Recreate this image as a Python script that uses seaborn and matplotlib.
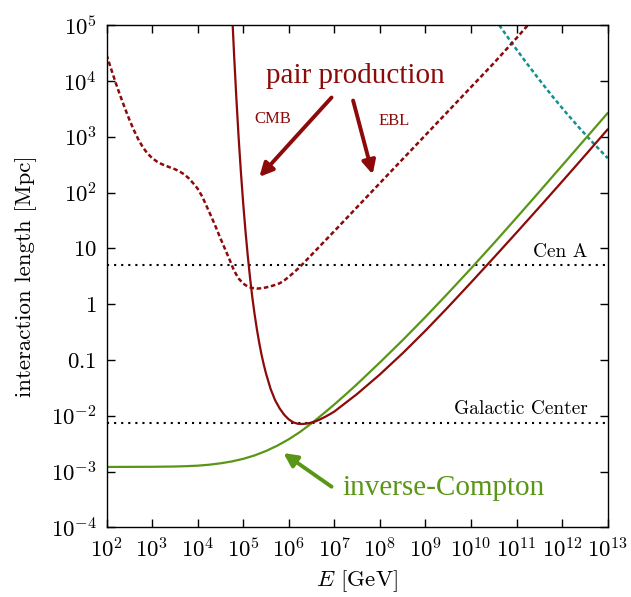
import numpy as np
import pandas as pd
import seaborn as sns
import matplotlib
matplotlib.use("Agg")
import matplotlib.pyplot as plt
from matplotlib.ticker import NullLocator

# curves, as log10(E/GeV) and log10(L/Mpc)
ic_logE = [2.0, 3.0, 3.5, 3.75, 4.0, 4.25, 4.5, 4.75, 5.0, 5.25, 5.5, 5.75, 6.0, 6.25,
           6.5, 6.75, 7.0, 7.25, 7.5, 8.0, 8.5, 9.0, 9.5, 10.0, 10.5, 11.0, 11.5, 12.0,
           12.5, 13.0]
ic_logL = [-2.917, -2.914, -2.909, -2.903, -2.894, -2.877, -2.852, -2.818, -2.772, -2.710,
           -2.631, -2.535, -2.421, -2.288, -2.134, -1.969, -1.797, -1.617, -1.432, -1.044,
           -0.644, -0.229, 0.201, 0.641, 1.091, 1.551, 2.016, 2.486, 2.956, 3.426]

cmb_logE = [4.75, 4.77, 4.80, 4.85, 4.90, 4.95, 5.00, 5.05, 5.10, 5.15, 5.20, 5.25, 5.30,
            5.35, 5.40, 5.45, 5.50, 5.60, 5.70, 5.80, 5.90, 6.00, 6.10, 6.20, 6.30, 6.40,
            6.50, 6.60, 6.70, 6.80, 6.90, 7.0, 7.5, 8.0, 8.5, 9.0, 9.5, 10.0, 10.5, 11.0,
            11.5, 12.0, 12.5, 13.0]
cmb_logL = [5.35, 4.985, 4.468, 3.686, 2.98, 2.36, 1.805, 1.31, 0.868, 0.475, 0.124, -0.18,
            -0.447, -0.685, -0.897, -1.079, -1.24, -1.516, -1.721, -1.868, -1.982, -2.065,
            -2.118, -2.143, -2.147, -2.139, -2.121, -2.096, -2.059, -2.018, -1.973, -1.924,
            -1.609, -1.259, -0.879, -0.474, -0.049, 0.389, 0.834, 1.284, 1.739, 2.199,
            2.664, 3.134]

ebl_logE = [2.0, 2.1, 2.2, 2.3, 2.4, 2.5, 2.6, 2.7, 2.8, 2.9, 3.0, 3.1, 3.2, 3.3, 3.4,
            3.5, 3.6, 3.7, 3.8, 3.9, 4.0, 4.1, 4.2, 4.3, 4.4, 4.5, 4.6, 4.7, 4.8, 4.9,
            5.0, 5.1, 5.2, 5.3, 5.4, 5.5, 5.6, 5.7, 5.8, 5.9, 6.0, 6.1, 6.2, 6.3, 6.4,
            6.5, 6.6, 7.0, 7.5, 8.0, 8.5, 9.0, 9.5, 10.0, 10.5, 11.0, 11.3]
ebl_logL = [4.47, 4.22, 3.97, 3.74, 3.52, 3.31, 3.12, 2.95, 2.81, 2.70, 2.62, 2.56, 2.515,
            2.48, 2.45, 2.42, 2.38, 2.33, 2.26, 2.17, 2.07, 1.93, 1.75, 1.57, 1.38, 1.18,
            0.99, 0.80, 0.60, 0.46, 0.37, 0.315, 0.29, 0.28, 0.285, 0.30, 0.32, 0.345,
            0.375, 0.425, 0.49, 0.56, 0.635, 0.715, 0.80, 0.885, 0.97, 1.31, 1.74, 2.17,
            2.60, 3.03, 3.46, 3.89, 4.32, 4.77, 5.05]

teal_logE = [10.62, 10.9, 11.2, 11.5, 11.8, 12.1, 12.4, 12.7, 13.0]
teal_logL = [5.0, 4.675, 4.342, 4.021, 3.712, 3.418, 3.139, 2.872, 2.617]

cen_a = 5.0        # Mpc
gal_center = 7.3e-3

xticks = [1e2, 1e3, 1e4, 1e5, 1e6, 1e7, 1e8, 1e9, 1e10, 1e11, 1e12, 1e13]
xlabels = [r'$10^{%d}$' % i for i in range(2, 14)]
yticks = [1e-4, 1e-3, 1e-2, 0.1, 1, 10, 1e2, 1e3, 1e4, 1e5]
ylabels = [r'$10^{-4}$', r'$10^{-3}$', r'$10^{-2}$', r'$0.1$', r'$1$', r'$10$',
           r'$10^{2}$', r'$10^{3}$', r'$10^{4}$', r'$10^{5}$']

red = '#8c0a0a'
green = '#5a9616'
teal = '#14908e'

sns.set_style('ticks')
plt.rcParams['font.family'] = ['cmr10', 'DejaVu Serif']
plt.rcParams['mathtext.fontset'] = 'cm'
plt.rcParams['axes.unicode_minus'] = False
plt.rcParams['axes.linewidth'] = 1.0
plt.rcParams['axes.edgecolor'] = 'black'
plt.rcParams['xtick.color'] = 'black'
plt.rcParams['ytick.color'] = 'black'
plt.rcParams['text.color'] = 'black'
plt.rcParams['axes.labelcolor'] = 'black'

def frame(logE, logL):
    return pd.DataFrame({'E': 10 ** np.array(logE), 'L': 10 ** np.array(logL)})

fig = plt.figure(figsize=(6.31, 5.97), dpi=100)
ax = fig.add_axes([0.1688, 0.1166, 0.7943, 0.8412])
ax.set_xscale('log')
ax.set_yscale('log')

ax.axhline(cen_a, color='black', lw=1.5, ls=(0, (1, 2.4)))
ax.axhline(gal_center, color='black', lw=1.5, ls=(0, (1, 2.4)))

sns.lineplot(data=frame(teal_logE, teal_logL), x='E', y='L', ax=ax, color=teal,
             lw=1.8, linestyle=(0, (1.6, 1.1)))
sns.lineplot(data=frame(ebl_logE, ebl_logL), x='E', y='L', ax=ax, color=red,
             lw=1.8, linestyle=(0, (1.8, 1.1)))
sns.lineplot(data=frame(ic_logE, ic_logL), x='E', y='L', ax=ax, color=green, lw=1.6)
sns.lineplot(data=frame(cmb_logE, cmb_logL), x='E', y='L', ax=ax, color=red, lw=1.6)

ax.set_xlim(1e2, 1e13)
ax.set_ylim(1e-4, 1e5)
ax.set_xticks(xticks)
ax.set_xticklabels(xlabels)
ax.set_yticks(yticks)
ax.set_yticklabels(ylabels)
ax.xaxis.set_minor_locator(NullLocator())
ax.yaxis.set_minor_locator(NullLocator())
ax.tick_params(direction='in', length=6, width=1, top=True, right=True,
               labelsize=16.5, pad=7)
ax.set_xlabel(r'$E$ [GeV]', fontsize=16.5, labelpad=5)
ax.set_ylabel('interaction length [Mpc]', fontsize=16.5, labelpad=10)

# labels and arrows
tf = ['Liberation Serif', 'DejaVu Serif']
ax.text(0.496, 0.885, 'pair production', transform=ax.transAxes, ha='center',
        va='baseline', color=red, fontsize=21, family=tf)
ax.text(0.332, 0.813, 'CMB', transform=ax.transAxes, ha='center', va='center',
        color=red, fontsize=12, family=tf)
ax.text(0.574, 0.809, 'EBL', transform=ax.transAxes, ha='center', va='center',
        color=red, fontsize=12, family=tf)
ax.text(0.672, 0.0645, 'inverse-Compton', transform=ax.transAxes, ha='center',
        va='baseline', color=green, fontsize=21, family=tf)
ax.text(0.959, 0.539, 'Cen A', transform=ax.transAxes, ha='right', va='baseline',
        fontsize=14)
ax.text(0.961, 0.225, 'Galactic Center', transform=ax.transAxes, ha='right',
        va='baseline', fontsize=14)

arrow = dict(arrowstyle='-|>', lw=2.8, mutation_scale=20, shrinkA=0, shrinkB=0)
ax.annotate('', xy=(0.305, 0.698), xytext=(0.449, 0.856), xycoords='axes fraction',
            arrowprops=dict(arrow, color=red))
ax.annotate('', xy=(0.531, 0.703), xytext=(0.492, 0.850), xycoords='axes fraction',
            arrowprops=dict(arrow, color=red))
ax.annotate('', xy=(0.353, 0.148), xytext=(0.449, 0.081), xycoords='axes fraction',
            arrowprops=dict(arrow, color=green))

for s in ax.spines.values():
    s.set_visible(True)

fig.savefig('out.png', dpi=100)
